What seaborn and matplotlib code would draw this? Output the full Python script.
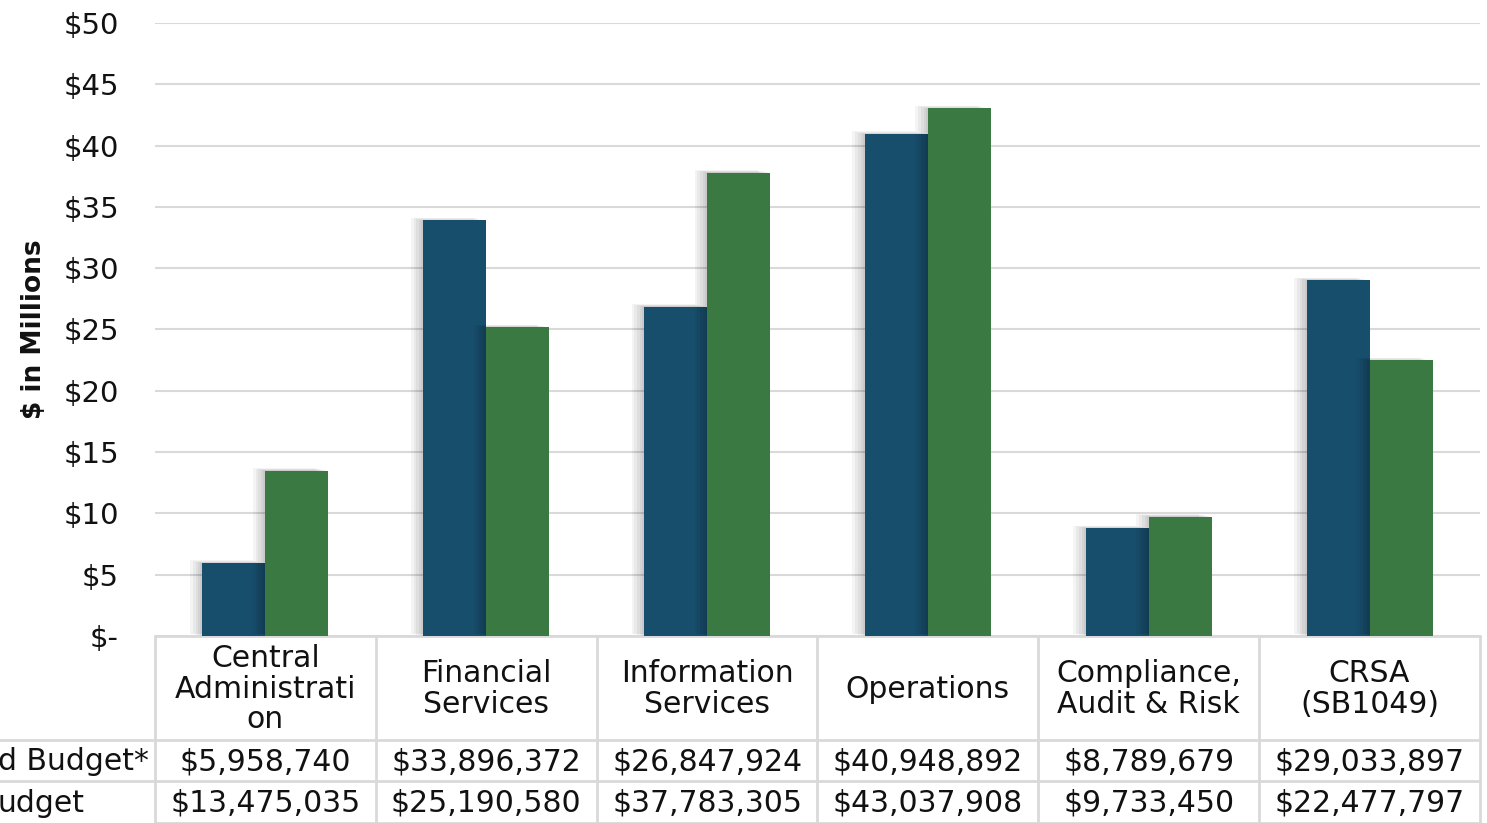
import pandas as pd
import matplotlib.pyplot as plt
import matplotlib.patheffects as pe
import seaborn as sns

# -----------------------------
# data
# -----------------------------
categories = ["Central\nAdministrati\non", "Financial\nServices", "Information\nServices",
              "Operations", "Compliance,\nAudit & Risk", "CRSA\n(SB1049)"]
row_labels = ["d Budget*", "udget"]
budget_a = [5958740, 33896372, 26847924, 40948892, 8789679, 29033897]
budget_b = [13475035, 25190580, 37783305, 43037908, 9733450, 22477797]
y_ticks = [0, 5, 10, 15, 20, 25, 30, 35, 40, 45, 50]

colors = ["#174e6c", "#3a7a42"]
grid_c = "#d9d9d9"
txt_c = "#111111"

sns.set_theme(style="white")
plt.rcParams['font.family'] = ['DejaVu Sans']

df = pd.DataFrame({
    "category": categories * 2,
    "series": [row_labels[0]] * 6 + [row_labels[1]] * 6,
    "value": [v / 1e6 for v in budget_a + budget_b],
})

fig = plt.figure(figsize=(14.87, 8.23), dpi=100)
ax = fig.add_axes([155 / 1487, 187 / 823, 1325 / 1487, 613 / 823])

sns.barplot(data=df, x="category", y="value", hue="series", palette=colors,
            width=0.57, saturation=1, ax=ax, legend=False, zorder=3)

# soft shadow on bars
shadow = [pe.SimplePatchShadow(offset=(-d, d * 0.2), shadow_rgbFace="black", alpha=0.045)
          for d in (9, 7, 5, 3, 1.5)] + [pe.Normal()]
for p in ax.patches:
    p.set_path_effects(shadow)
    p.set_edgecolor("none")

ax.set_xlim(-0.5, 5.5)
ax.set_ylim(0, 50)
ax.set_yticks(y_ticks)
ax.set_yticklabels(["$-" if t == 0 else f"${t}" for t in y_ticks])
ax.tick_params(axis="y", length=0, pad=26, labelsize=21, labelcolor=txt_c)
ax.set_xticks([])
ax.set_xlabel("")
ax.set_ylabel("$ in Millions", fontsize=19, fontweight="bold", labelpad=12, color=txt_c)
ax.yaxis.grid(True, color=grid_c, linewidth=1.5, zorder=0)
ax.set_axisbelow(True)
for s in ax.spines.values():
    s.set_visible(False)

# -----------------------------
# data table below the axes
# -----------------------------
tr = ax.get_xaxis_transform()
h = 613.0
def yf(px):
    return (636 - px) / h

for y in (636, 740, 781, 823):
    ax.plot([-0.5, 5.5], [yf(y), yf(y)], transform=tr, color=grid_c, lw=2, clip_on=False, zorder=1)
# left stub for row lines
for y in (740, 781):
    fig.add_artist(plt.Line2D([0, 155 / 1487], [1 - y / 823, 1 - y / 823], color=grid_c, lw=2))
for i in range(7):
    ax.plot([i - 0.5, i - 0.5], [yf(636), yf(830)], transform=tr, color=grid_c, lw=2, clip_on=False)

for i, cat in enumerate(categories):
    ax.text(i, yf(689), cat, transform=tr, ha="center", va="center", fontsize=21.5,
            linespacing=1.07, color=txt_c)
    ax.text(i, yf(762), f"${budget_a[i]:,}", transform=tr, ha="center", va="center",
            fontsize=21.5, color=txt_c)
    ax.text(i, yf(803), f"${budget_b[i]:,}", transform=tr, ha="center", va="center",
            fontsize=21.5, color=txt_c)

fig.text(-2 / 1487, 1 - 762 / 823, row_labels[0], ha="left", va="center", fontsize=21.5, color=txt_c)
fig.text(-2 / 1487, 1 - 803 / 823, row_labels[1], ha="left", va="center", fontsize=21.5, color=txt_c)

plt.savefig("out.png", dpi=100)
plt.close()
